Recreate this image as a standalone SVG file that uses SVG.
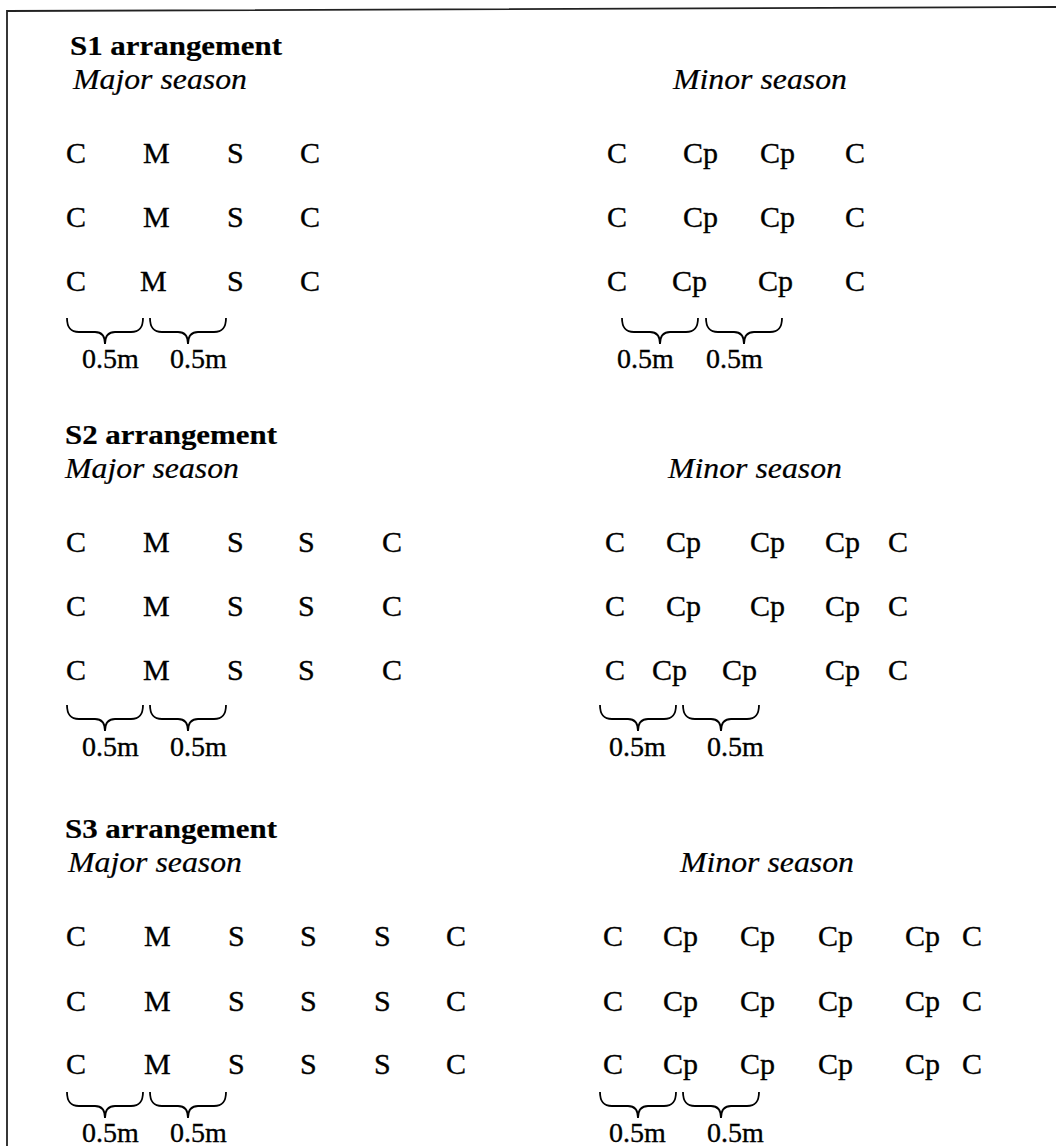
<svg xmlns="http://www.w3.org/2000/svg" xmlns:xlink="http://www.w3.org/1999/xlink" width="1056" height="1146" viewBox="0 0 1056 1146">
<style>
text{fill:#000;stroke:#000;stroke-width:0.35;font-family:"Liberation Serif","Times New Roman",serif}
.h{font-weight:bold;font-size:28px;stroke-width:0.2}
.s{font-style:italic;font-size:30px;stroke-width:0.2}
.t{font-size:30px}
.d{font-size:28px}
.b{fill:none;stroke:#000;stroke-width:1.8}
.frame{fill:none;stroke:#222;stroke-width:1.8}
</style>
<defs>
<path id="br" class="b" d="M0,0 C0,9 3,14 12,14 L28,14 C34,14 38,17 38,26 C38,17 42,14 48,14 L64,14 C73,14 76,9 76,0"/>
</defs>
<rect width="1056" height="1146" fill="#fff"/>
<path class="frame" d="M7,1146 L7,11 L1056,7"/>

<g id="s1">
<text class="h" x="70" y="55" textLength="212" lengthAdjust="spacingAndGlyphs">S1 arrangement</text>
<text class="s" x="73" y="89" textLength="174" lengthAdjust="spacingAndGlyphs">Major season</text>
<text class="s" x="673" y="89" textLength="174" lengthAdjust="spacingAndGlyphs">Minor season</text>
<g class="t">
<text x="66" y="163">C</text><text x="143" y="163">M</text><text x="227" y="163">S</text><text x="300" y="163">C</text>
<text x="66" y="227">C</text><text x="143" y="227">M</text><text x="227" y="227">S</text><text x="300" y="227">C</text>
<text x="66" y="291">C</text><text x="140" y="291">M</text><text x="227" y="291">S</text><text x="300" y="291">C</text>
<text x="607" y="163">C</text><text x="683" y="163">Cp</text><text x="760" y="163">Cp</text><text x="845" y="163">C</text>
<text x="607" y="227">C</text><text x="683" y="227">Cp</text><text x="760" y="227">Cp</text><text x="845" y="227">C</text>
<text x="607" y="291">C</text><text x="672" y="291">Cp</text><text x="758" y="291">Cp</text><text x="845" y="291">C</text>
</g>
<use xlink:href="#br" x="67" y="318"/><use xlink:href="#br" x="150" y="318"/>
<use xlink:href="#br" x="622" y="318"/><use xlink:href="#br" x="706" y="318"/>
<text class="d" x="82" y="368">0.5m</text><text class="d" x="170" y="368">0.5m</text>
<text class="d" x="617" y="368">0.5m</text><text class="d" x="706" y="368">0.5m</text>
</g>

<g id="s2">
<text class="h" x="65" y="444" textLength="212" lengthAdjust="spacingAndGlyphs">S2 arrangement</text>
<text class="s" x="65" y="478" textLength="174" lengthAdjust="spacingAndGlyphs">Major season</text>
<text class="s" x="668" y="478" textLength="174" lengthAdjust="spacingAndGlyphs">Minor season</text>
<g class="t">
<text x="66" y="552">C</text><text x="143" y="552">M</text><text x="227" y="552">S</text><text x="298" y="552">S</text><text x="382" y="552">C</text>
<text x="66" y="616">C</text><text x="143" y="616">M</text><text x="227" y="616">S</text><text x="298" y="616">S</text><text x="382" y="616">C</text>
<text x="66" y="680">C</text><text x="143" y="680">M</text><text x="227" y="680">S</text><text x="298" y="680">S</text><text x="382" y="680">C</text>
<text x="605" y="552">C</text><text x="666" y="552">Cp</text><text x="750" y="552">Cp</text><text x="825" y="552">Cp</text><text x="888" y="552">C</text>
<text x="605" y="616">C</text><text x="666" y="616">Cp</text><text x="750" y="616">Cp</text><text x="825" y="616">Cp</text><text x="888" y="616">C</text>
<text x="605" y="680">C</text><text x="652" y="680">Cp</text><text x="722" y="680">Cp</text><text x="825" y="680">Cp</text><text x="888" y="680">C</text>
</g>
<use xlink:href="#br" x="67" y="705"/><use xlink:href="#br" x="150" y="705"/>
<use xlink:href="#br" x="600" y="705"/><use xlink:href="#br" x="683" y="705"/>
<text class="d" x="82" y="756">0.5m</text><text class="d" x="170" y="756">0.5m</text>
<text class="d" x="609" y="756">0.5m</text><text class="d" x="707" y="756">0.5m</text>
</g>

<g id="s3">
<text class="h" x="65" y="838" textLength="212" lengthAdjust="spacingAndGlyphs">S3 arrangement</text>
<text class="s" x="68" y="872" textLength="174" lengthAdjust="spacingAndGlyphs">Major season</text>
<text class="s" x="680" y="872" textLength="174" lengthAdjust="spacingAndGlyphs">Minor season</text>
<g class="t">
<text x="66" y="946">C</text><text x="144" y="946">M</text><text x="228" y="946">S</text><text x="300" y="946">S</text><text x="374" y="946">S</text><text x="446" y="946">C</text>
<text x="66" y="1011">C</text><text x="144" y="1011">M</text><text x="228" y="1011">S</text><text x="300" y="1011">S</text><text x="374" y="1011">S</text><text x="446" y="1011">C</text>
<text x="66" y="1074">C</text><text x="144" y="1074">M</text><text x="228" y="1074">S</text><text x="300" y="1074">S</text><text x="374" y="1074">S</text><text x="446" y="1074">C</text>
<text x="603" y="946">C</text><text x="663" y="946">Cp</text><text x="740" y="946">Cp</text><text x="818" y="946">Cp</text><text x="905" y="946">Cp</text><text x="962" y="946">C</text>
<text x="603" y="1011">C</text><text x="663" y="1011">Cp</text><text x="740" y="1011">Cp</text><text x="818" y="1011">Cp</text><text x="905" y="1011">Cp</text><text x="962" y="1011">C</text>
<text x="603" y="1074">C</text><text x="663" y="1074">Cp</text><text x="740" y="1074">Cp</text><text x="818" y="1074">Cp</text><text x="905" y="1074">Cp</text><text x="962" y="1074">C</text>
</g>
<use xlink:href="#br" x="67" y="1092"/><use xlink:href="#br" x="150" y="1092"/>
<use xlink:href="#br" x="600" y="1092"/><use xlink:href="#br" x="683" y="1092"/>
<text class="d" x="82" y="1142">0.5m</text><text class="d" x="170" y="1142">0.5m</text>
<text class="d" x="609" y="1142">0.5m</text><text class="d" x="707" y="1142">0.5m</text>
</g>
</svg>
